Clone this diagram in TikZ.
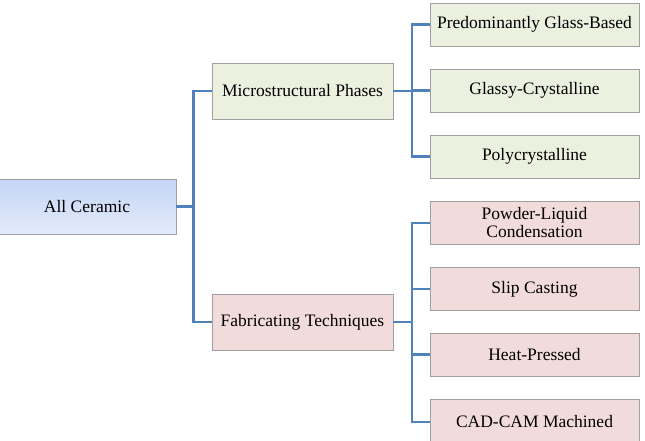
\documentclass[tikz,border=0pt]{standalone}
\usepackage{fontspec}
\setmainfont{Liberation Serif}
\definecolor{linkblue}{RGB}{79,129,189}
\definecolor{greenfill}{RGB}{235,241,222}
\definecolor{pinkfill}{RGB}{242,220,219}
\definecolor{boxedge}{RGB}{160,160,160}
\definecolor{bluetop}{RGB}{197,213,245}
\definecolor{bluebot}{RGB}{226,235,251}
\tikzset{
  basebox/.style={draw=boxedge, line width=0.8pt, inner sep=0pt, align=center,
    font=\fontsize{17.5}{18}\selectfont},
  rootbox/.style={basebox, top color=bluetop, bottom color=bluebot,
    minimum width=178pt, minimum height=55pt},
  midgreen/.style={basebox, fill=greenfill, minimum width=181pt, minimum height=56pt},
  midpink/.style={basebox, fill=pinkfill, minimum width=181pt, minimum height=56pt},
  leafgreen/.style={basebox, fill=greenfill, minimum width=209pt, minimum height=43pt},
  leafpink/.style={basebox, fill=pinkfill, minimum width=209pt, minimum height=43pt},
  link/.style={draw=linkblue, line width=2.6pt}
}
\begin{document}
\begin{tikzpicture}[x=1pt,y=-1pt]
\useasboundingbox (0,0) rectangle (645,441);
\node[rootbox] (ac) at (87,206.5) {All Ceramic};
\node[midgreen] (mp) at (302.5,91) {Microstructural Phases};
\node[midpink] (ft) at (302.5,322) {Fabricating Techniques};
\node[leafgreen] (g1) at (534.5,24.5) {Predominantly Glass-Based};
\node[leafgreen] (g2) at (534.5,90.5) {Glassy-Crystalline};
\node[leafgreen] (g3) at (534.5,156.5) {Polycrystalline};
\node[leafpink] (p1) at (534.5,223) {Powder-Liquid\\Condensation};
\node[leafpink] (p2) at (534.5,289) {Slip Casting};
\node[leafpink] (p3) at (534.5,354.5) {Heat-Pressed};
\node[leafpink, minimum height=46pt] (p4) at (534.5,422) {CAD-CAM Machined};
\draw[link] (ac.east) -- ++(17,0) |- (mp.west);
\draw[link] (ac.east) -- ++(17,0) |- (ft.west);
\foreach \t in {g1,g2,g3} \draw[link] (mp.east) -- ++(18.5,0) |- (\t.west);
\foreach \t in {p1,p2,p3,p4} \draw[link] (ft.east) -- ++(18.5,0) |- (\t.west);
\end{tikzpicture}
\end{document}
